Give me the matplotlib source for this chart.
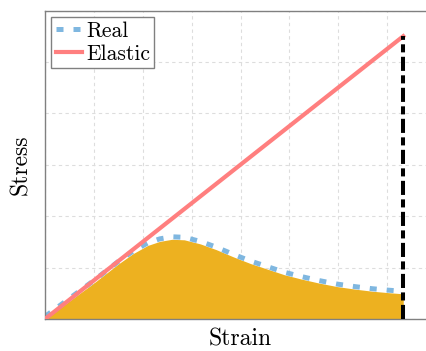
import matplotlib
matplotlib.use("Agg")
import matplotlib.pyplot as plt
import matplotlib.transforms as mtransforms
import numpy as np

plt.rcParams['font.family'] = ['cmr10', 'DejaVu Serif']
plt.rcParams['axes.formatter.use_mathtext'] = True

# measured stress-strain curve (arbitrary units)
strain = [0.0, 1.0, 1.5, 1.8, 2.1, 2.35, 2.6, 2.85, 3.18, 3.5, 3.85, 4.2,
          4.55, 4.9, 5.23, 5.6, 5.98, 6.35, 6.7, 7.05, 7.33]
stress = [0.0, 0.70, 1.07, 1.27, 1.43, 1.51, 1.55, 1.54, 1.46, 1.35, 1.21, 1.08,
          0.97, 0.86, 0.78, 0.70, 0.63, 0.58, 0.54, 0.51, 0.49]

# linear elastic response up to fracture
elastic_strain = [0.0, 7.33]
elastic_stress = [0.0, 5.50]

fracture_strain = 7.33
fracture_stress = 5.50

c_real = '#7fb7e0'
c_elastic = '#ff7f7f'
c_fill = '#edb120'

fig = plt.figure(figsize=(4.26, 3.51), dpi=100)
ax = fig.add_axes([45 / 426, 32 / 351, 391 / 426, 308.5 / 351])

ax.fill_between(strain, stress, 0, color=c_fill, lw=0, zorder=1)
# dashed curve sits on top of the filled area
lift = mtransforms.offset_copy(ax.transData, fig=fig, x=0, y=1.8, units='points')
ax.plot(strain, stress, color=c_real, lw=3.6, linestyle=(0, (1.4, 2.0)),
        dash_capstyle='butt', label='Real', zorder=2, transform=lift)
ax.plot(elastic_strain, elastic_stress, color=c_elastic, lw=3.0,
        label='Elastic', zorder=3)
ax.plot([fracture_strain, fracture_strain], [0, fracture_stress], color='black',
        lw=2.9, linestyle=(0, (3.5, 1.1, 2.0, 1.1)), dash_capstyle='butt', zorder=4)

ax.set_xlim(0, 8)
ax.set_ylim(0, 6)
ax.set_xticks(np.arange(0, 9, 1))
ax.set_yticks(np.arange(0, 7, 1))
ax.tick_params(length=0, labelbottom=False, labelleft=False)
ax.grid(True, color='#dddddd', lw=0.8, linestyle=(0, (3, 3)))
ax.set_axisbelow(True)
for side in ['left', 'bottom', 'top']:
    ax.spines[side].set_color('#808080')
    ax.spines[side].set_linewidth(1.0)
ax.spines['right'].set_visible(False)

ax.set_xlabel('Strain', fontsize=17, labelpad=7)
ax.set_ylabel('Stress', fontsize=17, labelpad=9)

leg = ax.legend(loc='upper left', fontsize=15.5, fancybox=False, framealpha=1,
                edgecolor='#808080', borderpad=0.2, handlelength=1.2,
                handletextpad=0.2, labelspacing=0.15, borderaxespad=0.3)
leg.get_frame().set_linewidth(1.0)

fig.savefig('out.png', dpi=100)
